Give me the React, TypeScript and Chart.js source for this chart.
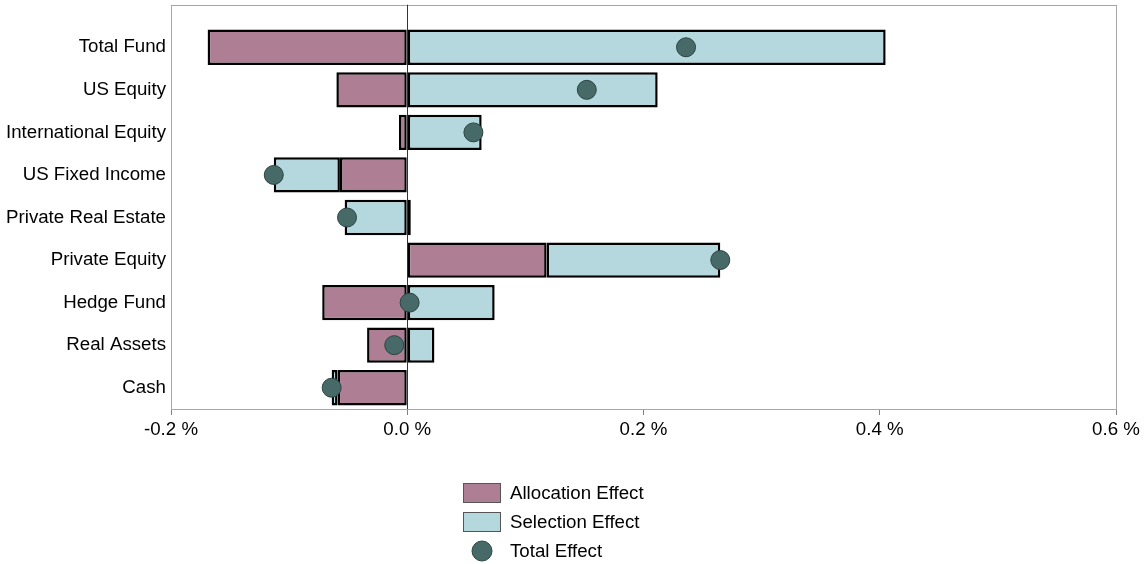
import React, { useEffect, useRef } from 'react';
import { Chart, registerables } from 'chart.js';
Chart.register(...registerables);

const categories = [
  'Total Fund',
  'US Equity',
  'International Equity',
  'US Fixed Income',
  'Private Real Estate',
  'Private Equity',
  'Hedge Fund',
  'Real Assets',
  'Cash',
];
const allocationEffect = [-0.169, -0.06, -0.007, -0.057, 0.003, 0.118, -0.072, -0.034, -0.059];
const selectionEffect = [0.405, 0.212, 0.063, -0.056, -0.053, 0.147, 0.074, 0.023, -0.005];
const totalEffect = [0.236, 0.152, 0.056, -0.113, -0.051, 0.265, 0.002, -0.011, -0.064];
const xTickValues = [-0.2, 0.0, 0.2, 0.4, 0.6];

const FONT_FAMILY = '"Liberation Sans", Arial, sans-serif';
const FONT_SIZE = 18.7;
const ALLOC_COLOR = '#ae7e95';
const SEL_COLOR = '#b4d8de';
const DOT_COLOR = '#476a68';
const DOT_BORDER = '#2c4442';

export default function App() {
  const ref = useRef<HTMLCanvasElement>(null);

  useEffect(() => {
    document.body.style.margin = '0';
    const framePlugin = {
      id: 'frameAndLegend',
      beforeDatasetsDraw(chart: any) {
        const { ctx, chartArea } = chart;
        const band = (chartArea.bottom - chartArea.top) / categories.length;
        const top = chartArea.top - band / 2;
        ctx.save();
        ctx.strokeStyle = '#a6a6a6';
        ctx.lineWidth = 1;
        ctx.strokeRect(
          Math.round(chartArea.left) + 0.5,
          Math.round(top) + 0.5,
          Math.round(chartArea.right - chartArea.left),
          Math.round(chartArea.bottom - top)
        );
        const zx = Math.round(chart.scales.x.getPixelForValue(0)) + 0.5;
        ctx.strokeStyle = '#333333';
        ctx.beginPath();
        ctx.moveTo(zx, top);
        ctx.lineTo(zx, chartArea.bottom);
        ctx.stroke();
        ctx.restore();
      },
      afterDraw(chart: any) {
        const { ctx } = chart;
        const ds = chart.data.datasets;
        ctx.save();
        ctx.font = `${FONT_SIZE}px ${FONT_FAMILY}`;
        ctx.textBaseline = 'middle';
        ctx.textAlign = 'left';
        const boxX = 463;
        const boxW = 38;
        const boxH = 20;
        const textX = 510;
        const rows = [493, 522, 551];
        ds.forEach((d: any, i: number) => {
          const cy = rows[i];
          if (d.type === 'line') {
            ctx.beginPath();
            ctx.arc(boxX + boxW / 2, cy, 10, 0, Math.PI * 2);
            ctx.fillStyle = d.pointBackgroundColor;
            ctx.fill();
            ctx.strokeStyle = d.pointBorderColor;
            ctx.lineWidth = 1;
            ctx.stroke();
          } else {
            ctx.fillStyle = d.backgroundColor;
            ctx.fillRect(boxX, cy - boxH / 2, boxW, boxH);
            ctx.strokeStyle = '#555555';
            ctx.lineWidth = 1;
            ctx.strokeRect(boxX + 0.5, cy - boxH / 2 + 0.5, boxW - 1, boxH - 1);
          }
          ctx.fillStyle = '#000000';
          ctx.fillText(d.label, textX, cy + 1);
        });
        ctx.restore();
      },
    };

    const font = { family: FONT_FAMILY, size: FONT_SIZE };
    const chart = new Chart(ref.current as HTMLCanvasElement, {
      type: 'bar',
      data: {
        labels: categories,
        datasets: [
          {
            type: 'bar',
            label: 'Allocation Effect',
            data: allocationEffect,
            backgroundColor: ALLOC_COLOR,
            borderColor: '#000000',
            borderWidth: 2.5,
            borderSkipped: false,
            stack: 'effects',
            barPercentage: 0.83,
            categoryPercentage: 1,
            order: 2,
          },
          {
            type: 'bar',
            label: 'Selection Effect',
            data: selectionEffect,
            backgroundColor: SEL_COLOR,
            borderColor: '#000000',
            borderWidth: 2.5,
            borderSkipped: false,
            stack: 'effects',
            barPercentage: 0.83,
            categoryPercentage: 1,
            order: 2,
          },
          {
            type: 'line',
            label: 'Total Effect',
            data: totalEffect,
            showLine: false,
            pointRadius: 9.5,
            pointBackgroundColor: DOT_COLOR,
            pointBorderColor: DOT_BORDER,
            pointBorderWidth: 1,
            stack: 'total',
            order: 0,
          } as any,
        ],
      },
      options: {
        indexAxis: 'y',
        responsive: false,
        animation: false,
        layout: { padding: { top: 26, right: 28, bottom: 115, left: 0 } },
        plugins: { legend: { display: false }, tooltip: { enabled: false } },
        scales: {
          x: {
            type: 'linear',
            stacked: true,
            min: -0.2,
            max: 0.6,
            afterBuildTicks: (s: any) => {
              s.ticks = xTickValues.map((v) => ({ value: v }));
            },
            ticks: {
              callback: (v: any) => Number(v).toFixed(1) + ' %',
              font,
              color: '#000000',
              padding: 4,
              maxRotation: 0,
              autoSkip: false,
            },
            grid: { drawOnChartArea: false, drawTicks: true, tickLength: 6, color: '#808080' },
            border: { display: false },
            afterFit: (s: any) => {
              s.height = 40;
            },
          },
          y: {
            type: 'category',
            stacked: true,
            grid: { display: false, drawTicks: false },
            border: { display: false },
            ticks: { font, color: '#000000', padding: 5 },
            afterFit: (s: any) => {
              s.width = 171;
            },
          },
        },
      } as any,
      plugins: [framePlugin],
    });
    return () => chart.destroy();
  }, []);

  return <canvas ref={ref} width={1144} height={564} style={{ display: 'block' }} />;
}
